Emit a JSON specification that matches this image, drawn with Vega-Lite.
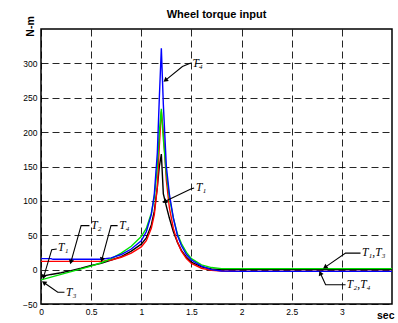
{
  "$schema": "https://vega.github.io/schema/vega-lite/v6.json",
  "width": 351,
  "height": 275,
  "autosize": {"type": "none"},
  "padding": {"left": 41, "top": 29, "right": 6, "bottom": 19},
  "background": "white",
  "title": {"text": "Wheel torque input", "fontSize": 11, "fontWeight": "bold", "font": "Liberation Sans", "color": "black", "offset": -4, "anchor": "middle"},
  "config": {
    "view": {"stroke": "black", "strokeWidth": 1.5},
    "axis": {"labelFont": "Liberation Sans", "labelFontSize": 8.5, "labelColor": "black", "labelOverlap": false, "labelFlush": false, "ticks": false, "domain": false, "grid": true, "gridColor": "black", "gridDash": [7, 4], "gridOpacity": 0.85, "gridWidth": 1},
    "axisY": {"labelOverlap": false},
    "axisQuantitative": {"labelOverlap": false}
  },
  "datasets": {
    "curves": [
      {"t": 0, "v": -10, "s": "T1"}, {"t": 0.1, "v": -7, "s": "T1"}, {"t": 0.2, "v": -4.5, "s": "T1"}, {"t": 0.3, "v": -1.5, "s": "T1"}, {"t": 0.4, "v": 2, "s": "T1"}, {"t": 0.5, "v": 6, "s": "T1"}, {"t": 0.6, "v": 9, "s": "T1"}, {"t": 0.7, "v": 14, "s": "T1"}, {"t": 0.8, "v": 19, "s": "T1"}, {"t": 0.9, "v": 27, "s": "T1"}, {"t": 1.0, "v": 37, "s": "T1"}, {"t": 1.05, "v": 46, "s": "T1"}, {"t": 1.1, "v": 65, "s": "T1"}, {"t": 1.13, "v": 85, "s": "T1"}, {"t": 1.16, "v": 120, "s": "T1"}, {"t": 1.18, "v": 150, "s": "T1"}, {"t": 1.2, "v": 168, "s": "T1"}, {"t": 1.22, "v": 110, "s": "T1"}, {"t": 1.25, "v": 92, "s": "T1"}, {"t": 1.28, "v": 75, "s": "T1"}, {"t": 1.32, "v": 55, "s": "T1"}, {"t": 1.36, "v": 40, "s": "T1"}, {"t": 1.4, "v": 28, "s": "T1"}, {"t": 1.45, "v": 18, "s": "T1"}, {"t": 1.5, "v": 11, "s": "T1"}, {"t": 1.6, "v": 4, "s": "T1"}, {"t": 1.7, "v": 1, "s": "T1"}, {"t": 1.8, "v": 0, "s": "T1"}, {"t": 2.0, "v": 0, "s": "T1"}, {"t": 3.5, "v": 0, "s": "T1"},
      {"t": 0, "v": 12, "s": "T2"}, {"t": 0.3, "v": 12, "s": "T2"}, {"t": 0.6, "v": 12, "s": "T2"}, {"t": 0.7, "v": 14, "s": "T2"}, {"t": 0.8, "v": 18, "s": "T2"}, {"t": 0.9, "v": 24, "s": "T2"}, {"t": 1.0, "v": 33, "s": "T2"}, {"t": 1.05, "v": 42, "s": "T2"}, {"t": 1.1, "v": 60, "s": "T2"}, {"t": 1.13, "v": 80, "s": "T2"}, {"t": 1.16, "v": 120, "s": "T2"}, {"t": 1.18, "v": 180, "s": "T2"}, {"t": 1.2, "v": 230, "s": "T2"}, {"t": 1.22, "v": 200, "s": "T2"}, {"t": 1.25, "v": 130, "s": "T2"}, {"t": 1.28, "v": 90, "s": "T2"}, {"t": 1.32, "v": 60, "s": "T2"}, {"t": 1.36, "v": 40, "s": "T2"}, {"t": 1.4, "v": 27, "s": "T2"}, {"t": 1.45, "v": 16, "s": "T2"}, {"t": 1.5, "v": 9, "s": "T2"}, {"t": 1.6, "v": 2, "s": "T2"}, {"t": 1.7, "v": -1, "s": "T2"}, {"t": 1.8, "v": -2, "s": "T2"}, {"t": 2.0, "v": -2.5, "s": "T2"}, {"t": 3.5, "v": -2.5, "s": "T2"},
      {"t": 0, "v": -15, "s": "T3"}, {"t": 0.1, "v": -11, "s": "T3"}, {"t": 0.2, "v": -7, "s": "T3"}, {"t": 0.3, "v": -3, "s": "T3"}, {"t": 0.4, "v": 1, "s": "T3"}, {"t": 0.5, "v": 5, "s": "T3"}, {"t": 0.6, "v": 10, "s": "T3"}, {"t": 0.7, "v": 16, "s": "T3"}, {"t": 0.8, "v": 24, "s": "T3"}, {"t": 0.9, "v": 34, "s": "T3"}, {"t": 1.0, "v": 48, "s": "T3"}, {"t": 1.05, "v": 60, "s": "T3"}, {"t": 1.1, "v": 82, "s": "T3"}, {"t": 1.13, "v": 105, "s": "T3"}, {"t": 1.16, "v": 150, "s": "T3"}, {"t": 1.18, "v": 200, "s": "T3"}, {"t": 1.2, "v": 234, "s": "T3"}, {"t": 1.22, "v": 190, "s": "T3"}, {"t": 1.25, "v": 140, "s": "T3"}, {"t": 1.28, "v": 105, "s": "T3"}, {"t": 1.32, "v": 75, "s": "T3"}, {"t": 1.36, "v": 52, "s": "T3"}, {"t": 1.4, "v": 38, "s": "T3"}, {"t": 1.45, "v": 25, "s": "T3"}, {"t": 1.5, "v": 16, "s": "T3"}, {"t": 1.6, "v": 7, "s": "T3"}, {"t": 1.7, "v": 3, "s": "T3"}, {"t": 1.8, "v": 1.5, "s": "T3"}, {"t": 2.0, "v": 1.5, "s": "T3"}, {"t": 3.5, "v": 1.5, "s": "T3"},
      {"t": 0, "v": 16, "s": "T4"}, {"t": 0.1, "v": 16, "s": "T4"}, {"t": 0.12, "v": 15, "s": "T4"}, {"t": 0.6, "v": 15, "s": "T4"}, {"t": 0.7, "v": 17, "s": "T4"}, {"t": 0.8, "v": 22, "s": "T4"}, {"t": 0.9, "v": 30, "s": "T4"}, {"t": 1.0, "v": 42, "s": "T4"}, {"t": 1.05, "v": 55, "s": "T4"}, {"t": 1.1, "v": 80, "s": "T4"}, {"t": 1.13, "v": 110, "s": "T4"}, {"t": 1.16, "v": 170, "s": "T4"}, {"t": 1.18, "v": 250, "s": "T4"}, {"t": 1.2, "v": 322, "s": "T4"}, {"t": 1.22, "v": 240, "s": "T4"}, {"t": 1.25, "v": 150, "s": "T4"}, {"t": 1.28, "v": 110, "s": "T4"}, {"t": 1.32, "v": 75, "s": "T4"}, {"t": 1.36, "v": 50, "s": "T4"}, {"t": 1.4, "v": 35, "s": "T4"}, {"t": 1.45, "v": 22, "s": "T4"}, {"t": 1.5, "v": 14, "s": "T4"}, {"t": 1.6, "v": 5, "s": "T4"}, {"t": 1.7, "v": 0, "s": "T4"}, {"t": 1.8, "v": -2, "s": "T4"}, {"t": 2.0, "v": -2.5, "s": "T4"}, {"t": 3.5, "v": -2.5, "s": "T4"}
    ],
    "arrows": [
      {"id": "A", "k": 1, "t": 1.494, "v": 300.4}, {"id": "A", "k": 2, "t": 1.41, "v": 295.5}, {"id": "A", "k": 3, "t": 1.246, "v": 276},
      {"id": "B", "k": 1, "t": 1.527, "v": 118.7}, {"id": "B", "k": 2, "t": 1.494, "v": 117.3}, {"id": "B", "k": 3, "t": 1.239, "v": 99.3},
      {"id": "C", "k": 1, "t": 0.483, "v": 64}, {"id": "C", "k": 2, "t": 0.4, "v": 64}, {"id": "C", "k": 3, "t": 0.3, "v": 12},
      {"id": "D", "k": 1, "t": 0.764, "v": 64}, {"id": "D", "k": 2, "t": 0.698, "v": 64}, {"id": "D", "k": 3, "t": 0.609, "v": 15.5},
      {"id": "E", "k": 1, "t": 0.157, "v": 30}, {"id": "E", "k": 2, "t": 0.107, "v": 29}, {"id": "E", "k": 3, "t": 0.028, "v": -9.7},
      {"id": "F", "k": 1, "t": 0.234, "v": -33}, {"id": "F", "k": 2, "t": 0.167, "v": -33}, {"id": "F", "k": 3, "t": 0.035, "v": -19.4},
      {"id": "G", "k": 1, "t": 3.186, "v": 24}, {"id": "G", "k": 2, "t": 3.037, "v": 24}, {"id": "G", "k": 3, "t": 2.838, "v": 4},
      {"id": "H", "k": 1, "t": 3.037, "v": -22}, {"id": "H", "k": 2, "t": 2.838, "v": -22}, {"id": "H", "k": 3, "t": 2.788, "v": -6}
    ],
    "labels": [
      {"t": 1.51, "v": 299, "label": "T₄"},
      {"t": 1.545, "v": 119, "label": "T₁"},
      {"t": 0.5, "v": 63, "label": "T₂"},
      {"t": 0.78, "v": 64, "label": "T₄"},
      {"t": 0.17, "v": 31, "label": "T₁"},
      {"t": 0.25, "v": -34, "label": "T₃"},
      {"t": 3.2, "v": 24, "label": "T₁,T₃"},
      {"t": 3.05, "v": -23, "label": "T₂,T₄"}
    ]
  },
  "encoding": {
    "x": {"field": "t", "type": "quantitative", "scale": {"domain": [0, 3.5], "nice": false, "zero": false},
      "axis": {"values": [0, 0.5, 1, 1.5, 2, 2.5, 3], "labelOverlap": false, "labelExpr": "datum.value == 0 ? '0' : format(datum.value, '.3~f')", "labelPadding": 3, "title": "sec", "titleFont": "Liberation Sans", "titleFontSize": 10.5, "titleFontWeight": "bold", "titleColor": "black", "titleAnchor": "end", "titleAlign": "right", "titleX": 353, "titleY": 14, "titleBaseline": "alphabetic"}},
    "y": {"field": "v", "type": "quantitative", "scale": {"domain": [-50, 350], "nice": false, "zero": false},
      "axis": {"values": [-50, 0, 50, 100, 150, 200, 250, 300], "labelOverlap": false, "labelPadding": 4, "labelExpr": "format(datum.value, 'd')", "title": "N-m", "titleFont": "Liberation Sans", "titleFontSize": 10.5, "titleFontWeight": "bold", "titleColor": "black", "titleAngle": 270, "titleX": -11, "titleY": -3, "titleAlign": "center", "titleBaseline": "middle"}}
  },
  "layer": [
    {
      "data": {"name": "curves"},
      "mark": {"type": "line", "strokeWidth": 1.4, "clip": true},
      "encoding": {
        "color": {"field": "s", "type": "nominal", "scale": {"domain": ["T1", "T2", "T3", "T4"], "range": ["black", "#ff0000", "#00e000", "#0000ff"]}, "legend": null},
        "order": {"field": "t", "type": "quantitative"}
      }
    },
    {
      "data": {"name": "arrows"},
      "mark": {"type": "line", "color": "black", "strokeWidth": 1.1},
      "encoding": {
        "detail": {"field": "id"},
        "order": {"field": "k"}
      }
    },
    {
      "data": {"name": "arrows"},
      "transform": [
        {"window": [{"op": "lag", "field": "t", "as": "tp"}, {"op": "lag", "field": "v", "as": "vp"}], "groupby": ["id"], "sort": [{"field": "k"}]},
        {"filter": "datum.k == 3"},
        {"calculate": "atan2((datum.t - datum.tp) * 100.3, (datum.v - datum.vp) * 0.6875) * 180 / PI", "as": "ang"}
      ],
      "mark": {"type": "point", "shape": "triangle", "filled": true, "color": "black", "size": 28, "opacity": 1},
      "encoding": {
        "angle": {"field": "ang", "type": "quantitative", "scale": null}
      }
    },
    {
      "data": {"name": "labels"},
      "mark": {"type": "text", "align": "left", "baseline": "middle", "font": "Liberation Serif", "fontStyle": "italic", "fontSize": 11.5, "color": "black"},
      "encoding": {
        "text": {"field": "label"}
      }
    }
  ]
}
